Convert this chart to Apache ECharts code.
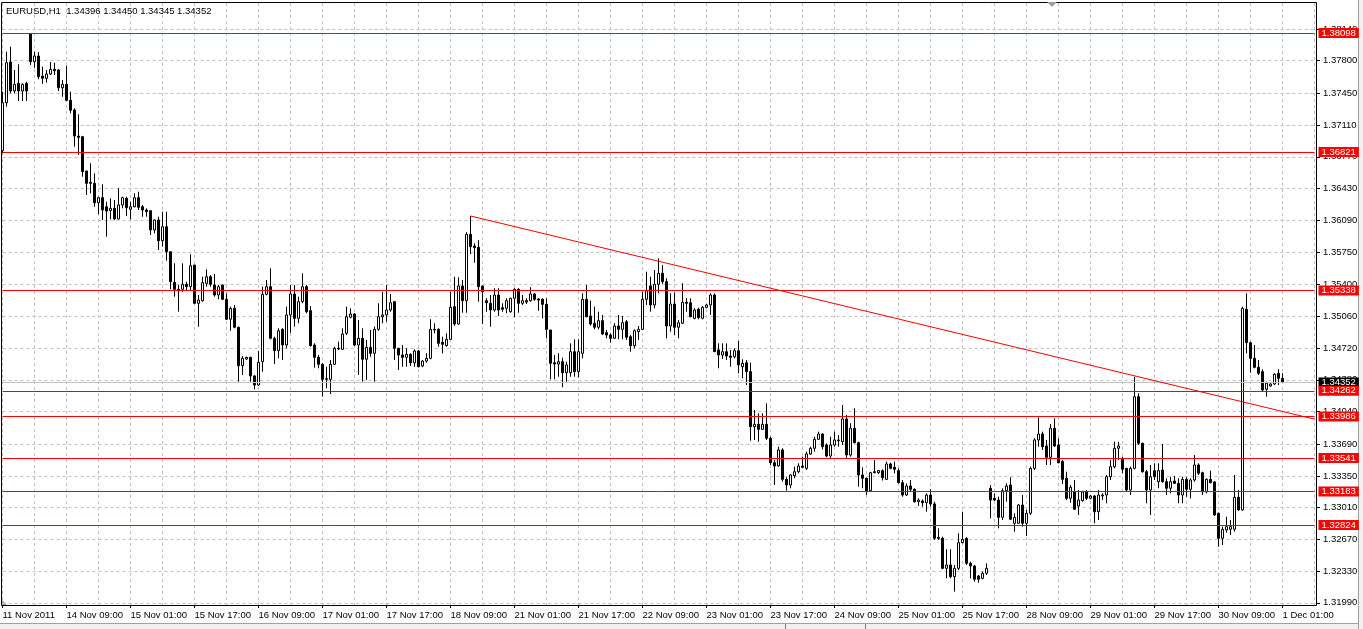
<!DOCTYPE html>
<html>
<head>
<meta charset="utf-8">
<title>EURUSD,H1</title>
<script src="https://cdn.jsdelivr.net/npm/echarts@6/dist/echarts.min.js"></script>
<style>
  html, body { margin: 0; padding: 0; background: #fff; }
  #chart { width: 1363px; height: 629px; }
</style>
</head>
<body>
<div id="chart"></div>
<script>
// hourly bars: [open, high, low, close]
const ohlc = [
  [1.36836,1.37468,1.36808,1.37350],[1.37350,1.37897,1.37307,1.37779],[1.37786,1.37950,1.37451,1.37476],[1.37476,1.37701,1.37451,1.37547],
  [1.37558,1.37762,1.37368,1.37476],[1.37476,1.37558,1.37368,1.37547],[1.37558,1.37575,1.37368,1.37476],[1.38090,1.38098,1.37754,1.37790],
  [1.37790,1.37897,1.37725,1.37851],[1.37851,1.37894,1.37601,1.37629],[1.37636,1.37736,1.37551,1.37612],[1.37612,1.37701,1.37565,1.37658],
  [1.37658,1.37786,1.37647,1.37708],[1.37708,1.37779,1.37647,1.37693],[1.37701,1.37710,1.37476,1.37511],[1.37511,1.37593,1.37414,1.37547],
  [1.37547,1.37744,1.37368,1.37376],[1.37376,1.37468,1.37237,1.37269],[1.37272,1.37290,1.36879,1.36993],[1.36993,1.37226,1.36790,1.36979],
  [1.36986,1.36995,1.36557,1.36611],[1.36618,1.36620,1.36361,1.36486],[1.36497,1.36701,1.36379,1.36486],[1.36486,1.36593,1.36235,1.36278],
  [1.36278,1.36343,1.36154,1.36332],[1.36332,1.36476,1.36093,1.36200],[1.36235,1.36289,1.35914,1.36189],[1.36193,1.36325,1.36100,1.36218],
  [1.36218,1.36307,1.36093,1.36104],[1.36104,1.36433,1.36100,1.36254],[1.36254,1.36343,1.36218,1.36332],[1.36325,1.36343,1.36136,1.36225],
  [1.36208,1.36289,1.36100,1.36235],[1.36235,1.36379,1.36229,1.36332],[1.36332,1.36396,1.36200,1.36229],[1.36235,1.36254,1.36128,1.36200],
  [1.36200,1.36218,1.36128,1.36182],[1.36193,1.36195,1.35932,1.35986],[1.35986,1.36100,1.35950,1.36093],[1.36093,1.36128,1.35771,1.35871],
  [1.35871,1.36182,1.35807,1.36021],[1.36021,1.36182,1.35657,1.35753],[1.35753,1.35755,1.35350,1.35432],[1.35425,1.35629,1.35271,1.35350],
  [1.35350,1.35396,1.35110,1.35335],[1.35350,1.35629,1.35324,1.35404],[1.35404,1.35432,1.35335,1.35378],[1.35378,1.35725,1.35335,1.35603],
  [1.35610,1.35612,1.35192,1.35200],[1.35200,1.35289,1.34949,1.35235],[1.35228,1.35485,1.35217,1.35421],[1.35414,1.35564,1.35378,1.35485],
  [1.35485,1.35503,1.35378,1.35404],[1.35396,1.35514,1.35271,1.35289],[1.35289,1.35396,1.35243,1.35378],[1.35396,1.35398,1.35235,1.35243],
  [1.35243,1.35307,1.35021,1.35029],[1.35029,1.35164,1.34906,1.35146],[1.35146,1.35182,1.34932,1.34943],[1.34943,1.34949,1.34360,1.34531],
  [1.34531,1.34635,1.34431,1.34610],[1.34603,1.34627,1.34592,1.34621],[1.34621,1.34627,1.34360,1.34421],[1.34421,1.34431,1.34278,1.34324],
  [1.34324,1.34689,1.34313,1.34567],[1.34574,1.35378,1.34467,1.35296],[1.35296,1.35450,1.35286,1.35378],[1.35378,1.35575,1.34814,1.34825],
  [1.34825,1.34842,1.34549,1.34692],[1.34692,1.34932,1.34610,1.34906],[1.34921,1.34932,1.34592,1.34753],[1.34753,1.35164,1.34718,1.35075],
  [1.35075,1.35396,1.34885,1.35300],[1.35300,1.35396,1.34949,1.35039],[1.35039,1.35271,1.34986,1.35217],[1.35217,1.35522,1.35200,1.35378],
  [1.35378,1.35396,1.35093,1.35110],[1.35121,1.35171,1.34735,1.34746],[1.34753,1.34771,1.34510,1.34621],[1.34621,1.34646,1.34503,1.34546],
  [1.34546,1.34557,1.34199,1.34385],[1.34385,1.34520,1.34289,1.34392],[1.34385,1.34592,1.34228,1.34546],[1.34546,1.34735,1.34539,1.34718],
  [1.34718,1.34788,1.34700,1.34710],[1.34707,1.34932,1.34700,1.34871],[1.34878,1.35164,1.34860,1.35056],[1.35050,1.35146,1.35039,1.35085],
  [1.35085,1.35093,1.34742,1.34753],[1.34753,1.35021,1.34431,1.34825],[1.34825,1.34932,1.34360,1.34600],[1.34600,1.34807,1.34378,1.34728],
  [1.34728,1.34914,1.34627,1.34664],[1.34664,1.34949,1.34360,1.34921],[1.34921,1.35200,1.34906,1.35056],[1.35056,1.35324,1.34986,1.35075],
  [1.35075,1.35396,1.35003,1.35128],[1.35128,1.35300,1.35110,1.35206],[1.35217,1.35225,1.34592,1.34718],[1.34718,1.34720,1.34485,1.34646],
  [1.34646,1.34753,1.34520,1.34621],[1.34621,1.34718,1.34520,1.34653],[1.34653,1.34664,1.34528,1.34563],[1.34563,1.34707,1.34520,1.34689],
  [1.34689,1.34700,1.34514,1.34520],[1.34528,1.34592,1.34515,1.34581],[1.34581,1.34664,1.34563,1.34610],[1.34610,1.35029,1.34600,1.34921],
  [1.34921,1.34986,1.34878,1.34914],[1.34921,1.34932,1.34735,1.34771],[1.34782,1.34842,1.34664,1.34761],[1.34746,1.34878,1.34735,1.34814],
  [1.34814,1.35324,1.34807,1.35157],[1.35164,1.35485,1.34957,1.34978],[1.34978,1.35479,1.34968,1.35386],[1.35386,1.35450,1.35099,1.35228],
  [1.35228,1.35961,1.35099,1.35940],[1.35940,1.36136,1.35728,1.35807],[1.35814,1.35843,1.35635,1.35796],[1.35800,1.35878,1.35217,1.35378],
  [1.35386,1.35390,1.34978,1.35324],[1.35228,1.35254,1.35110,1.35206],[1.35200,1.35289,1.34949,1.35128],[1.35128,1.35361,1.35110,1.35289],
  [1.35289,1.35361,1.35064,1.35128],[1.35153,1.35200,1.35110,1.35136],[1.35146,1.35254,1.35093,1.35228],[1.35110,1.35257,1.35099,1.35254],
  [1.35254,1.35361,1.35050,1.35350],[1.35350,1.35361,1.35099,1.35200],[1.35200,1.35289,1.35182,1.35228],[1.35228,1.35254,1.35192,1.35214],
  [1.35228,1.35372,1.35217,1.35300],[1.35300,1.35307,1.35228,1.35243],[1.35246,1.35254,1.35121,1.35235],[1.35243,1.35254,1.35039,1.35189],
  [1.35189,1.35254,1.34825,1.34921],[1.34914,1.34915,1.34385,1.34557],[1.34563,1.34646,1.34385,1.34549],[1.34549,1.34664,1.34413,1.34574],
  [1.34574,1.34617,1.34300,1.34456],[1.34456,1.34574,1.34360,1.34539],[1.34456,1.34771,1.34413,1.34681],[1.34681,1.34814,1.34413,1.34467],
  [1.34467,1.34814,1.34407,1.34681],[1.34664,1.35307,1.34610,1.35243],[1.35243,1.35396,1.35050,1.35056],[1.35064,1.35228,1.34960,1.34978],
  [1.34986,1.35164,1.34921,1.34943],[1.34943,1.35110,1.34921,1.35014],[1.35014,1.35075,1.34860,1.34871],[1.34885,1.34914,1.34825,1.34860],
  [1.34860,1.34878,1.34778,1.34825],[1.34825,1.34986,1.34818,1.34957],[1.34957,1.35075,1.34814,1.34921],[1.34921,1.35064,1.34814,1.34992],
  [1.35003,1.35021,1.34807,1.34836],[1.34842,1.34860,1.34681,1.34746],[1.34746,1.34921,1.34718,1.34906],[1.34896,1.34957,1.34807,1.34921],
  [1.34921,1.35324,1.34914,1.35243],[1.35243,1.35539,1.35182,1.35335],[1.35386,1.35485,1.35110,1.35182],[1.35182,1.35557,1.35146,1.35404],
  [1.35404,1.35682,1.35307,1.35522],[1.35522,1.35611,1.35407,1.35432],[1.35432,1.35468,1.34825,1.34957],[1.34957,1.35307,1.34896,1.35192],
  [1.35192,1.35314,1.34860,1.34943],[1.34943,1.35021,1.34825,1.34992],[1.34986,1.35414,1.34978,1.35211],[1.35211,1.35254,1.35110,1.35200],
  [1.35206,1.35254,1.35050,1.35056],[1.35039,1.35146,1.35029,1.35128],[1.35136,1.35153,1.35029,1.35046],[1.35039,1.35171,1.35029,1.35157],
  [1.35157,1.35192,1.35146,1.35182],[1.35182,1.35307,1.35075,1.35289],[1.35289,1.35307,1.34678,1.34681],[1.34700,1.34771,1.34503,1.34646],
  [1.34646,1.34771,1.34603,1.34681],[1.34681,1.34771,1.34592,1.34635],[1.34635,1.34700,1.34520,1.34621],[1.34627,1.34718,1.34610,1.34692],
  [1.34692,1.34796,1.34450,1.34539],[1.34520,1.34600,1.34396,1.34557],[1.34563,1.34592,1.34324,1.34467],[1.34467,1.34563,1.33727,1.33877],
  [1.33877,1.34056,1.33735,1.33903],[1.33903,1.34021,1.33717,1.33849],[1.33849,1.34021,1.33842,1.33903],[1.33903,1.34128,1.33735,1.33753],
  [1.33753,1.33770,1.33467,1.33491],[1.33491,1.33520,1.33252,1.33456],[1.33456,1.33663,1.33449,1.33628],[1.33628,1.33646,1.33288,1.33313],
  [1.33313,1.33341,1.33191,1.33252],[1.33252,1.33367,1.33217,1.33360],[1.33352,1.33449,1.33324,1.33395],[1.33395,1.33485,1.33378,1.33456],
  [1.33456,1.33556,1.33431,1.33442],[1.33431,1.33610,1.33413,1.33585],[1.33585,1.33663,1.33574,1.33646],[1.33646,1.33770,1.33610,1.33742],
  [1.33742,1.33824,1.33735,1.33799],[1.33799,1.33807,1.33635,1.33663],[1.33681,1.33699,1.33549,1.33563],[1.33563,1.33770,1.33538,1.33681],
  [1.33681,1.33824,1.33663,1.33735],[1.33727,1.33788,1.33663,1.33735],[1.33717,1.34110,1.33681,1.33960],[1.33960,1.34003,1.33538,1.33574],
  [1.33574,1.33914,1.33556,1.33860],[1.33860,1.34074,1.33699,1.33706],[1.33706,1.33717,1.33234,1.33360],[1.33360,1.33442,1.33217,1.33324],
  [1.33324,1.33331,1.33145,1.33181],[1.33191,1.33395,1.33181,1.33384],[1.33384,1.33520,1.33378,1.33395],[1.33384,1.33413,1.33370,1.33406],
  [1.33406,1.33420,1.33300,1.33330],[1.33313,1.33503,1.33306,1.33478],[1.33478,1.33492,1.33421,1.33431],[1.33442,1.33503,1.33378,1.33421],
  [1.33406,1.33431,1.33270,1.33277],[1.33277,1.33306,1.33127,1.33145],[1.33145,1.33270,1.33134,1.33242],[1.33242,1.33306,1.33181,1.33206],
  [1.33206,1.33217,1.33063,1.33073],[1.33073,1.33110,1.33027,1.33091],[1.33081,1.33099,1.33020,1.33063],[1.33063,1.33163,1.32966,1.33145],
  [1.33145,1.33206,1.33020,1.33049],[1.33049,1.33073,1.32663,1.32681],[1.32692,1.32788,1.32663,1.32681],[1.32681,1.32698,1.32349,1.32359],
  [1.32359,1.32563,1.32252,1.32395],[1.32395,1.32563,1.32252,1.32270],[1.32270,1.32395,1.32109,1.32359],[1.32359,1.32735,1.32341,1.32634],
  [1.32634,1.32966,1.32627,1.32670],[1.32681,1.32692,1.32395,1.32413],[1.32413,1.32430,1.32252,1.32384],[1.32384,1.32395,1.32216,1.32242],
  [1.32277,1.32288,1.32205,1.32242],[1.32252,1.32324,1.32242,1.32306],[1.32306,1.32413,1.32288,1.32359],[1.33217,1.33252,1.32895,1.33091],
  [1.33110,1.33163,1.33084,1.33091],[1.33091,1.33127,1.32788,1.32906],[1.32906,1.33217,1.32877,1.33191],[1.33191,1.33270,1.33073,1.33242],
  [1.33252,1.33335,1.32877,1.32885],[1.32842,1.32949,1.32752,1.32906],[1.32842,1.33049,1.32835,1.33038],[1.33038,1.33145,1.32806,1.32842],
  [1.32842,1.32985,1.32706,1.32949],[1.32949,1.33449,1.32931,1.33431],[1.33431,1.33753,1.33413,1.33735],[1.33735,1.33978,1.33663,1.33799],
  [1.33799,1.33824,1.33628,1.33663],[1.33670,1.33735,1.33467,1.33549],[1.33549,1.33906,1.33467,1.33860],[1.33860,1.33967,1.33663,1.33670],
  [1.33681,1.33753,1.33485,1.33491],[1.33503,1.33520,1.33263,1.33313],[1.33324,1.33395,1.33091,1.33110],[1.33110,1.33252,1.33063,1.33228],
  [1.33181,1.33306,1.32985,1.32992],[1.33027,1.33199,1.32931,1.33091],[1.33084,1.33191,1.33073,1.33178],[1.33181,1.33199,1.33091,1.33110],
  [1.33110,1.33145,1.33099,1.33134],[1.33134,1.33145,1.32842,1.32966],[1.32966,1.33199,1.32877,1.33145],[1.33134,1.33163,1.33091,1.33145],
  [1.33145,1.33360,1.33056,1.33341],[1.33341,1.33520,1.33306,1.33449],[1.33449,1.33717,1.33431,1.33646],[1.33646,1.33717,1.33520,1.33670],
  [1.33538,1.33556,1.33378,1.33421],[1.33431,1.33435,1.33181,1.33199],[1.33199,1.33449,1.33145,1.33431],[1.33431,1.34413,1.33421,1.34199],
  [1.34199,1.34235,1.33681,1.33699],[1.33699,1.33706,1.33384,1.33395],[1.33395,1.33413,1.33056,1.33199],[1.33199,1.33467,1.32931,1.33341],
  [1.33406,1.33485,1.33306,1.33341],[1.33288,1.33485,1.33217,1.33406],[1.33413,1.33692,1.33277,1.33288],[1.33288,1.33324,1.33145,1.33217],
  [1.33217,1.33341,1.33163,1.33288],[1.33295,1.33349,1.33263,1.33270],[1.33270,1.33324,1.33056,1.33145],[1.33145,1.33341,1.33056,1.33313],
  [1.33313,1.33335,1.33127,1.33206],[1.33206,1.33324,1.33110,1.33306],[1.33306,1.33574,1.33288,1.33467],[1.33467,1.33485,1.33360,1.33378],
  [1.33384,1.33395,1.33145,1.33178],[1.33178,1.33324,1.33163,1.33313],[1.33313,1.33406,1.33270,1.33277],[1.33285,1.33295,1.32920,1.32931],
  [1.32949,1.32956,1.32591,1.32681],[1.32681,1.32806,1.32609,1.32778],[1.32770,1.32913,1.32741,1.32806],[1.32778,1.32877,1.32716,1.32806],
  [1.32778,1.33360,1.32752,1.33120],[1.33120,1.33199,1.32977,1.32985],[1.32985,1.35164,1.32977,1.35146],[1.35136,1.35307,1.34664,1.34778],
  [1.34778,1.34788,1.34456,1.34610],[1.34610,1.34753,1.34503,1.34514],[1.34514,1.34592,1.34431,1.34450],[1.34467,1.34493,1.34253,1.34271],
  [1.34278,1.34360,1.34199,1.34343],[1.34313,1.34343,1.34306,1.34335],[1.34335,1.34450,1.34324,1.34439],[1.34450,1.34493,1.34324,1.34396],
  [1.34396,1.34450,1.34345,1.34352]
];

// price scale labels on the right
const yTicks = [1.31990, 1.32330, 1.32670, 1.33010, 1.33350, 1.33690, 1.34040, 1.34380, 1.34720, 1.35060,
  1.35400, 1.35750, 1.36090, 1.36430, 1.36770, 1.37110, 1.37450, 1.37800, 1.38140];

// horizontal levels (red), bid line, trend line from the 18 Nov high
const levels = [1.38098, 1.36821, 1.35338, 1.34262, 1.33986, 1.33541, 1.33183, 1.32824];
const bid = 1.34352;
const trend = [[117, 1.36136], [328, 1.33958]];
const header = 'EURUSD,H1  1.34396 1.34450 1.34345 1.34352';

const FONT = 'Liberation Sans';
const MON = ['Jan','Feb','Mar','Apr','May','Jun','Jul','Aug','Sep','Oct','Nov','Dec'];

// hourly slots from Fri 11 Nov 2011 17:00, weekends skipped (plus empty slots on the right)
const times = [];
let t = Date.UTC(2011, 10, 11, 17);
while (times.length < 329) {
  const d = new Date(t);
  const wd = d.getUTCDay();
  if (wd !== 0 && wd !== 6) {
    const hh = String(d.getUTCHours()).padStart(2, '0');
    times.push(times.length === 0 ? '11 Nov 2011' : d.getUTCDate() + ' ' + MON[d.getUTCMonth()] + ' ' + hh + ':00');
  }
  t += 3600000;
}

const candles = ohlc.map(r => [r[0], r[3], r[2], r[1]]);

const chart = echarts.init(document.getElementById('chart'), null, { renderer: 'canvas' });

chart.setOption({
  animation: false,
  backgroundColor: '#ffffff',
  title: {
    text: header, left: 6, top: 6, padding: 0,
    textStyle: { fontFamily: FONT, fontSize: 9.5, fontWeight: 'normal', color: '#000' }
  },
  grid: { left: 2.5, right: 48.5, top: 3, bottom: 24, outerBoundsMode: 'none', containLabel: false },
  xAxis: {
    type: 'category',
    data: times,
    boundaryGap: false,
    axisLine: { show: false },
    axisTick: { show: true, length: 3, interval: i => i % 16 === 0, lineStyle: { color: '#000' } },
    axisLabel: {
      interval: i => i % 16 === 0, align: 'left', margin: 5,
      color: '#000', fontFamily: FONT, fontSize: 9.5
    },
    splitLine: { show: true, interval: i => i % 8 === 0, lineStyle: { color: '#c0c0c0', type: [3, 3], width: 1 } }
  },
  yAxis: {
    type: 'value',
    position: 'right',
    min: 1.31966,
    max: 1.38419,
    offset: 2.5,
    scale: true,
    axisLine: { show: false },
    axisTick: { show: true, length: 3, customValues: yTicks, lineStyle: { color: '#000' } },
    axisLabel: {
      customValues: yTicks, formatter: v => v.toFixed(5), margin: 6,
      color: '#000', fontFamily: FONT, fontSize: 9.5
    },
    splitLine: { show: true, lineStyle: { color: '#c0c0c0', type: [3, 3], width: 1 } }
  },
  series: [{
    type: 'candlestick',
    data: candles,
    barWidth: 2,
    clip: false,
    itemStyle: { color: '#ffffff', color0: '#000000', borderColor: '#000000', borderColor0: '#000000', borderWidth: 1 },
    markLine: {
      silent: true,
      symbol: ['none', 'none'],
      animation: false,
      precision: 5,
      label: {
        show: true, position: 'end', distance: 4,
        formatter: p => Number(p.value).toFixed(5),
        color: '#fff', backgroundColor: '#ff0000', padding: [0, 3, 0, 3], lineHeight: 10,
        fontFamily: FONT, fontSize: 9.5
      },
      lineStyle: { color: '#ff0000', width: 1, type: 'solid' },
      data: [
        { yAxis: bid, lineStyle: { color: '#c0c0c0' }, label: { backgroundColor: '#000000' } }
      ].concat(levels.map(v => ({ yAxis: v }))).concat([
        [{ coord: trend[0], label: { show: false } }, { coord: trend[1], label: { show: false } }]
      ])
    }
  }],
  graphic: [
    { type: 'rect', silent: true, shape: { x: 1.5, y: 2.5, width: 1315, height: 603 },
      style: { fill: 'none', stroke: '#000', lineWidth: 1 } },
    { type: 'polygon', silent: true, shape: { points: [[1047, 2], [1057, 2], [1052, 7]] }, style: { fill: '#a0a0a0' } },
    { type: 'polygon', silent: true, shape: { points: [[2, 600], [2, 605], [7, 605]] }, style: { fill: '#a0a0a0' } },
    { type: 'rect', silent: true, shape: { x: 0, y: 623, width: 1363, height: 6 }, style: { fill: '#f0f0f0' } },
    { type: 'line', silent: true, shape: { x1: 0, y1: 623.5, x2: 1358, y2: 623.5 }, style: { stroke: '#a0a0a0', lineWidth: 1 } },
    { type: 'line', silent: true, shape: { x1: 785.5, y1: 624, x2: 785.5, y2: 629 }, style: { stroke: '#808080', lineWidth: 1 } },
    { type: 'line', silent: true, shape: { x1: 865.5, y1: 624, x2: 865.5, y2: 629 }, style: { stroke: '#808080', lineWidth: 1 } },
    { type: 'rect', silent: true, shape: { x: 1358, y: 0, width: 5, height: 629 }, style: { fill: '#f0f0f0' } },
    { type: 'line', silent: true, shape: { x1: 1358.5, y1: 0, x2: 1358.5, y2: 629 }, style: { stroke: '#a0a0a0', lineWidth: 1 } }
  ]
});
</script>
</body>
</html>
